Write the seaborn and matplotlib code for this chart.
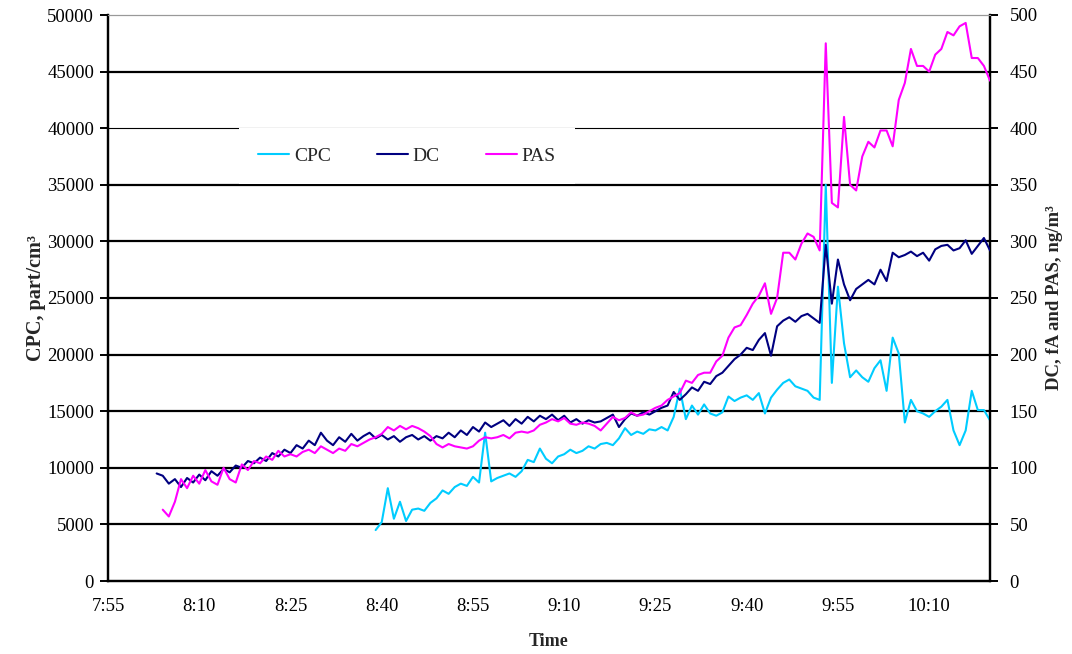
import matplotlib
matplotlib.use("Agg")
import matplotlib.pyplot as plt
import matplotlib.dates as mdates
import pandas as pd
import seaborn as sns

# One-minute readings; each series starts at its own time and runs to 10:20
DAY = "2000-01-01 "

cpc_start = "08:39"
cpc_values = [  # part/cm3
    4500, 5200, 8200, 5500, 7000, 5300, 6300, 6400, 6200, 6900,
    7300, 8000, 7700, 8300, 8600, 8400, 9200, 8700, 13100, 8800,
    9100, 9300, 9500, 9200, 9700, 10700, 10500, 11700, 10800, 10400,
    11000, 11200, 11600, 11300, 11500, 11900, 11700, 12100, 12200, 12000,
    12600, 13500, 12900, 13200, 13000, 13400, 13300, 13600, 13300, 14500,
    17000, 14300, 15500, 14700, 15600, 14800, 14600, 14900, 16300, 15900,
    16200, 16400, 16000, 16600, 14800, 16200, 16900, 17500, 17800, 17200,
    17000, 16800, 16200, 16000, 35000, 17500, 26000, 21000, 18000, 18600,
    18000, 17600, 18800, 19500, 16800, 21500, 20100, 14000, 16000, 15000,
    14800, 14500, 15000, 15400, 16000, 13300, 12000, 13300, 16800, 15100,
    15100, 14200,
]

dc_start = "08:03"
dc_values = [  # fA
    95, 93, 86, 90, 83, 91, 87, 94, 89, 97,
    93, 99, 96, 102, 100, 106, 104, 109, 106, 113,
    110, 116, 113, 120, 117, 124, 120, 131, 124, 120,
    127, 123, 130, 124, 128, 131, 126, 129, 125, 128,
    123, 127, 129, 125, 128, 124, 128, 126, 131, 127,
    133, 129, 136, 132, 140, 136, 139, 142, 137, 143,
    139, 145, 141, 146, 143, 147, 142, 146, 140, 143,
    139, 142, 140, 141, 144, 147, 136, 143, 148, 146,
    149, 147, 150, 153, 155, 167, 160, 165, 171, 168,
    176, 174, 181, 184, 190, 196, 200, 206, 204, 213,
    219, 199, 225, 230, 233, 229, 234, 236, 232, 228,
    297, 245, 284, 262, 248, 258, 262, 266, 262, 275,
    265, 290, 286, 288, 291, 287, 290, 283, 293, 296,
    297, 292, 294, 301, 289, 296, 303, 292,
]

pas_start = "08:04"
pas_values = [  # ng/m3
    63, 57, 70, 90, 82, 93, 86, 98, 88, 85,
    100, 90, 87, 103, 98, 106, 104, 110, 107, 115,
    110, 112, 110, 114, 116, 113, 119, 116, 113, 117,
    115, 121, 119, 122, 125, 127, 130, 136, 133, 137,
    134, 137, 135, 132, 128, 121, 118, 121, 119, 118,
    117, 119, 124, 127, 126, 127, 129, 126, 131, 132,
    131, 133, 138, 140, 143, 141, 144, 139, 138, 140,
    139, 137, 133, 139, 145, 142, 144, 149, 146, 147,
    150, 153, 155, 160, 163, 166, 177, 175, 182, 184,
    184, 194, 199, 215, 224, 226, 235, 245, 252, 263,
    236, 250, 290, 290, 284, 298, 307, 304, 292, 475,
    334, 330, 410, 350, 345, 375, 388, 383, 398, 398,
    384, 425, 440, 470, 455, 455, 450, 465, 470, 485,
    482, 490, 493, 462, 462, 455, 442,
]

left_ticks = list(range(0, 50001, 5000))
right_ticks = list(range(0, 501, 50))
x_from, x_to = "07:55", "10:20"

COLORS = {"CPC": "#00CCFF", "DC": "#000080", "PAS": "#FF00FF"}


def series_frame(start, values):
    times = pd.date_range(DAY + start, periods=len(values), freq="1min")
    return pd.DataFrame({"time": times, "value": values})


cpc = series_frame(cpc_start, cpc_values)
dc = series_frame(dc_start, dc_values)
pas = series_frame(pas_start, pas_values)

sns.set_style("white")
plt.rcParams["font.family"] = ["Liberation Serif", "DejaVu Serif"]

fig = plt.figure(figsize=(10.72, 6.54), dpi=100)
ax = fig.add_axes([108 / 1072, 73 / 654, 882 / 1072, 566 / 654])
ax2 = ax.twinx()

# horizontal grid on the primary axis
for v in left_ticks[1:-1]:
    ax.axhline(v, color="black", lw=0.8 if v == 40000 else 1.6, zorder=1)

sns.lineplot(data=cpc, x="time", y="value", ax=ax, color=COLORS["CPC"],
             lw=1.5, legend=False, zorder=3)
h_cpc = ax.lines[-1]
sns.lineplot(data=dc, x="time", y="value", ax=ax2, color=COLORS["DC"],
             lw=1.5, legend=False, zorder=3)
h_dc = ax2.lines[-1]
sns.lineplot(data=pas, x="time", y="value", ax=ax2, color=COLORS["PAS"],
             lw=1.5, legend=False, zorder=4)
h_pas = ax2.lines[-1]

ax.set_xlim(pd.Timestamp(DAY + x_from), pd.Timestamp(DAY + x_to))
ax.set_ylim(0, 50000)
ax2.set_ylim(0, 500)
ax.set_yticks(left_ticks)
ax2.set_yticks(right_ticks)
ax.xaxis.set_major_locator(mdates.MinuteLocator(byminute=[10, 25, 40, 55]))
ax.xaxis.set_major_formatter(mdates.DateFormatter("%-H:%M"))

for a in (ax, ax2):
    for side in ("left", "right", "bottom"):
        a.spines[side].set_color("black")
        a.spines[side].set_linewidth(1.6)
    a.spines["top"].set_color("#999999")
    a.spines["top"].set_linewidth(0.8)
    a.grid(False)

ax.tick_params(axis="both", direction="out", length=6, width=1.4,
               color="black", labelsize=13.5, pad=4, labelcolor="black")
ax.tick_params(axis="x", pad=6)
ax2.tick_params(axis="y", direction="out", length=6, width=1.4,
                color="black", labelsize=13.5, pad=8, labelcolor="black")

ax.set_xlabel("Time", fontsize=13, fontweight="bold", labelpad=13)
ax.set_ylabel("CPC, part/cm³", fontsize=14.5, fontweight="bold", labelpad=1)
ax2.set_ylabel("DC, fA and PAS, ng/m³", fontsize=13.5, fontweight="bold",
               labelpad=6)

leg = ax2.legend([h_cpc, h_dc, h_pas], ["CPC", "DC", "PAS"], loc="center",
                 bbox_to_anchor=(0.339, 0.751), ncol=3, frameon=True,
                 facecolor="white", edgecolor="none", framealpha=1,
                 fancybox=False, borderpad=1.0, handlelength=1.6,
                 handletextpad=0.25, columnspacing=2.35, fontsize=14)
leg.set_zorder(10)

fig.savefig("out.png", dpi=100, facecolor="white")
